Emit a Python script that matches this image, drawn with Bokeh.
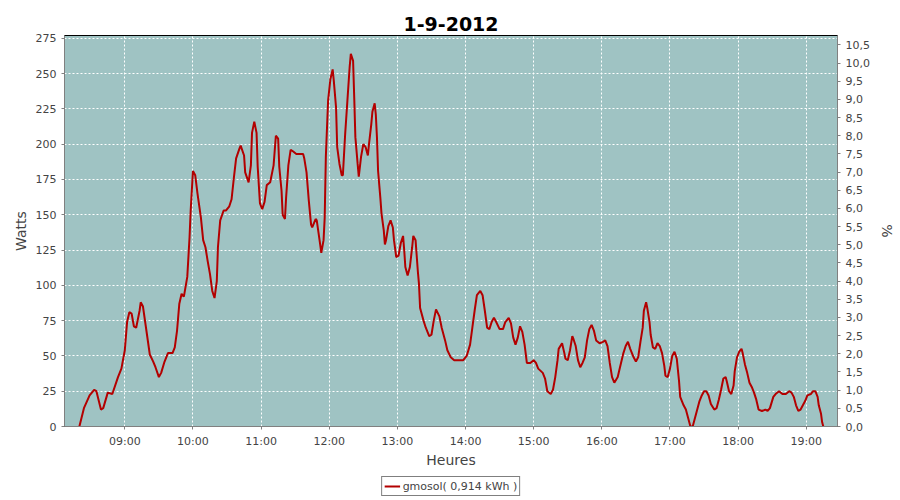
from bokeh.plotting import figure
from bokeh.layouts import column
from bokeh.models import (Range1d, LinearAxis, FixedTicker, Legend, LegendItem,
                          CustomJSTickFormatter, ColumnDataSource)
from bokeh.embed import file_html
from bokeh.resources import INLINE

# ---- data (minutes since midnight, Watts) ----
time_min = [500, 504, 509, 513, 515, 519, 521, 525, 529, 534, 537, 540, 542, 544, 546, 548, 550, 553, 554, 556,
            559, 562, 565, 567, 570, 572, 575, 578, 582, 584, 586, 588, 590, 592, 595, 597, 598, 600, 602, 604,
            607, 609, 611, 613, 615, 617, 619, 621, 622, 624, 627, 629, 632, 634, 636, 638, 641, 642, 645, 646,
            649, 651, 652, 654, 656, 657, 659, 661, 663, 665, 668, 671, 673, 675, 676, 678, 679, 681, 682, 684,
            686, 688, 691, 695, 697, 698, 700, 702, 704, 705, 708, 709, 712, 713, 715, 716, 717, 719, 721, 723,
            724, 726, 727, 729, 731, 732, 734, 736, 738, 739, 741, 742, 743, 745, 746, 748, 750, 752, 754, 755,
            757, 758, 760, 761, 762, 763, 765, 766, 768, 769, 770, 772, 774, 776, 777, 779, 781, 783, 785, 786,
            787, 789, 791, 793, 794, 796, 798, 799, 800, 803, 805, 808, 810, 812, 814, 817, 819, 822, 824, 827,
            830, 838, 841, 844, 846, 848, 850, 853, 855, 857, 859, 861, 863, 865, 867, 870, 873, 875, 878, 880,
            882, 884, 886, 888, 890, 892, 894, 897, 900, 902, 904, 908, 910, 912, 915, 917, 919, 921, 922, 925,
            927, 928, 930, 932, 934, 935, 937, 939, 941, 943, 945, 947, 949, 951, 953, 955, 958, 961, 963, 965,
            967, 969, 971, 974, 976, 979, 981, 983, 985, 988, 990, 992, 994, 996, 997, 999, 1000, 1002, 1003, 1005,
            1007, 1009, 1011, 1013, 1015, 1016, 1018, 1020, 1022, 1024, 1026, 1028, 1029, 1032, 1034, 1036, 1038, 1040, 1043, 1046,
            1048, 1050, 1052, 1054, 1056, 1059, 1061, 1063, 1065, 1067, 1069, 1070, 1072, 1074, 1076, 1077, 1079, 1081, 1083, 1084,
            1086, 1088, 1090, 1092, 1094, 1096, 1098, 1101, 1104, 1106, 1108, 1111, 1113, 1116, 1119, 1122, 1125, 1127, 1129, 1131,
            1133, 1135, 1137, 1139, 1141, 1144, 1146, 1148, 1150, 1151, 1153, 1154, 1155]
watts = [0, 13, 22, 26, 25, 12, 13, 24, 23, 35, 41, 54, 74, 81, 80, 71, 70, 82, 88, 85,
         68, 51, 46, 42, 35, 38, 46, 52, 52, 56, 68, 87, 94, 92, 106, 134, 153, 181, 178, 165,
         148, 132, 127, 117, 108, 96, 91, 103, 127, 146, 153, 153, 156, 161, 176, 190, 197, 199, 192, 180,
         173, 185, 208, 216, 208, 184, 158, 154, 159, 171, 173, 185, 206, 204, 184, 167, 150, 147, 162, 185,
         196, 195, 193, 193, 193, 190, 180, 160, 143, 141, 147, 146, 129, 123, 132, 148, 191, 231, 246, 253,
         245, 226, 198, 186, 178, 178, 207, 231, 255, 264, 259, 233, 205, 186, 177, 191, 200, 198, 192, 200,
         214, 223, 229, 221, 205, 181, 162, 151, 139, 129, 132, 142, 146, 141, 132, 120, 121, 130, 135, 125,
         113, 107, 113, 127, 135, 132, 110, 101, 84, 75, 70, 64, 65, 75, 83, 78, 70, 61, 54, 49,
         47, 47, 50, 58, 70, 82, 93, 96, 93, 82, 70, 69, 74, 77, 74, 69, 69, 74, 77, 73,
         63, 58, 63, 71, 67, 58, 45, 45, 47, 45, 41, 38, 34, 25, 23, 26, 35, 47, 55, 59,
         52, 48, 47, 54, 64, 62, 57, 47, 42, 45, 49, 61, 69, 72, 68, 61, 59, 60, 61, 57,
         45, 35, 31, 35, 42, 52, 57, 60, 55, 49, 46, 49, 60, 70, 82, 88, 84, 74, 65, 56,
         55, 59, 57, 52, 43, 36, 35, 41, 50, 53, 48, 32, 21, 15, 12, 6, 0, 0, 9, 18,
         22, 25, 25, 22, 16, 12, 13, 19, 26, 34, 35, 32, 25, 23, 29, 39, 49, 53, 55, 52,
         44, 38, 31, 28, 24, 19, 12, 11, 12, 11, 13, 21, 23, 25, 23, 23, 25, 24, 21, 15,
         11, 12, 15, 18, 22, 23, 25, 25, 21, 15, 9, 3, 0]

x_ticks = [540, 600, 660, 720, 780, 840, 900, 960, 1020, 1080, 1140]
x_labels = ["09:00", "10:00", "11:00", "12:00", "13:00", "14:00", "15:00", "16:00", "17:00", "18:00", "19:00"]
y_ticks = [0, 25, 50, 75, 100, 125, 150, 175, 200, 225, 250, 275]
pct_ticks = [0.0, 0.5, 1.0, 1.5, 2.0, 2.5, 3.0, 3.5, 4.0, 4.5, 5.0, 5.5, 6.0, 6.5, 7.0, 7.5,
             8.0, 8.5, 9.0, 9.5, 10.0, 10.5]
chart_title = "1-9-2012"
series_label = "gmosol( 0,914 kWh )"

FONT = "DejaVu Sans"
TICK_COLOR = "#444444"
LINE_COLOR = "#b30000"

p = figure(frame_width=773, frame_height=391,
           x_range=Range1d(486.9, 1167.5), y_range=Range1d(0, 277),
           output_backend="svg", toolbar_location=None,
           min_border_left=64, min_border_right=63, min_border_top=35, min_border_bottom=48,
           background_fill_color="#9fc3c3", border_fill_color="white",
           outline_line_color="black", outline_line_width=1,
           title=chart_title)

p.title.align = "center"
p.title.text_font = FONT
p.title.text_font_size = "19px"
p.title.text_font_style = "bold"
p.title.text_color = "black"
p.title.standoff = 10

# grids
p.xgrid.ticker = FixedTicker(ticks=x_ticks)
p.ygrid.ticker = FixedTicker(ticks=y_ticks)
for g in (p.xgrid, p.ygrid):
    g.grid_line_color = "white"
    g.grid_line_dash = "2 2"
    g.grid_line_width = 1

# bottom axis
xa = p.xaxis[0]
xa.ticker = FixedTicker(ticks=x_ticks)
xa.major_label_overrides = {t: l for t, l in zip(x_ticks, x_labels)}
xa.axis_label = "Heures"

# left axis
ya = p.yaxis[0]
ya.ticker = FixedTicker(ticks=y_ticks)
ya.axis_label = "Watts"

# right axis
p.extra_y_ranges = {"pct": Range1d(0, 10.76)}
ra = LinearAxis(y_range_name="pct", axis_label="%",
                ticker=FixedTicker(ticks=pct_ticks),
                formatter=CustomJSTickFormatter(code="return tick.toFixed(1).replace('.', ',');"))
p.add_layout(ra, "right")

for ax in (xa, ya, ra):
    ax.axis_line_color = "#808080"
    ax.major_tick_line_color = "#808080"
    ax.minor_tick_line_color = None
    ax.major_tick_in = 0
    ax.major_tick_out = 3
    ax.major_label_text_font = FONT
    ax.major_label_text_font_size = "11px"
    ax.major_label_text_color = TICK_COLOR
    ax.axis_label_text_font = FONT
    ax.axis_label_text_font_size = "14px"
    ax.axis_label_text_font_style = "normal"
    ax.axis_label_text_color = TICK_COLOR
    ax.major_label_standoff = 5
xa.axis_label_standoff = 1
ya.axis_label_standoff = 4
ra.axis_label_standoff = 6

src = ColumnDataSource(dict(t=time_min, w=watts))
r = p.line("t", "w", source=src, line_color=LINE_COLOR, line_width=2)

# ---- legend strip below the chart ----
leg_fig = figure(width=900, height=24, x_range=Range1d(0, 1), y_range=Range1d(0, 1),
                 output_backend="svg", toolbar_location=None,
                 x_axis_location=None, y_axis_location=None,
                 min_border=0, outline_line_color=None,
                 background_fill_color="white", border_fill_color="white")
leg_fig.grid.visible = False
# sample line kept outside the strip's visible range; it only supplies the legend glyph
dummy = leg_fig.line(x=[-2, -1], y=[-2, -1], line_color=LINE_COLOR, line_width=2)

legend = Legend(items=[LegendItem(label=series_label, renderers=[dummy])],
                location="center", orientation="horizontal",
                border_line_color="black", border_line_width=1,
                background_fill_color="white", background_fill_alpha=1.0,
                padding=2, spacing=0, margin=0,
                label_text_font=FONT, label_text_font_size="11px", label_text_color=TICK_COLOR,
                glyph_width=16, glyph_height=14, label_height=14, label_standoff=3)
leg_fig.add_layout(legend)

layout = column(p, leg_fig, spacing=0)

open("out.html", "w").write(file_html(layout, INLINE))
